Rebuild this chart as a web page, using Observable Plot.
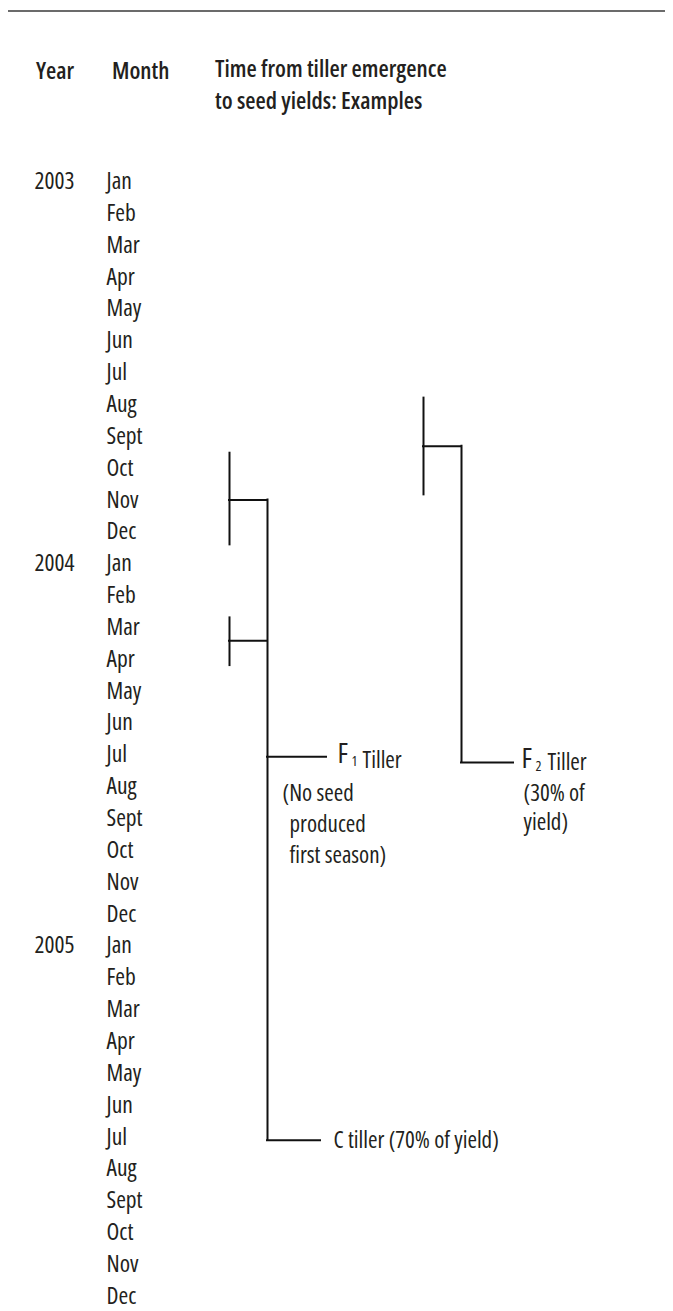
<!DOCTYPE html>
<html>
<head>
<meta charset="utf-8">
<script src="https://cdn.jsdelivr.net/npm/d3@7"></script>
<script src="https://cdn.jsdelivr.net/npm/@observablehq/plot@0.6"></script>
<style>
  html, body { margin: 0; padding: 0; background: #fff; }
  body { width: 673px; height: 1311px; position: relative; overflow: hidden; font-family: "Open Sans", sans-serif; font-stretch: 87.5%; color: #231f20; }
  #rule { position: absolute; left: 8px; top: 10px; width: 657px; height: 0; border-top: 2px solid #6b6b6b; }
  .hd { position: absolute; font-weight: 600; font-size: 23.5px; line-height: 32px; white-space: nowrap; font-stretch: 87.5%; }
  #chart { position: absolute; left: 0; top: 140px; }
  #chart svg text { font-stretch: 87.5%; }
</style>
</head>
<body>
<div id="rule"></div>
<div class="hd" style="left:36px; top:54px;">Year</div>
<div class="hd" style="left:112px; top:54px;">Month</div>
<div class="hd" style="left:215px; top:52px;">Time from tiller emergence<br>to seed yields: Examples</div>
<div id="chart"></div>
<script>
// ---- data ----
const monthNames = ["Jan","Feb","Mar","Apr","May","Jun","Jul","Aug","Sept","Oct","Nov","Dec"];
const years = [2003, 2004, 2005];
// month rows (index = months since Jan 2003)
const months = years.flatMap((yr, k) => monthNames.map((m, j) => ({i: k * 12 + j, label: m})));
const yearRows = years.map((yr, k) => ({i: k * 12, label: String(yr)}));

// bracket verticals (emergence windows), in month units
const windows = [
  {x: 229, y1: 8.5, y2: 11.44},
  {x: 229, y1: 13.67, y2: 15.23},
  {x: 423, y1: 6.77, y2: 9.87}
];
// horizontal connectors
const connectors = [
  {y: 10.0, x1: 229, x2: 267},
  {y: 14.42, x1: 229, x2: 267},
  {y: 8.31, x1: 423, x2: 461},
  {y: 18.06, x1: 267, x2: 326},
  {y: 30.1, x1: 267, x2: 320},
  {y: 18.24, x1: 461, x2: 513}
];
// trunks (time until seed yield)
const trunks = [
  {x: 267, y1: 10.0, y2: 30.1},
  {x: 461, y1: 8.31, y2: 18.24}
];
// labels
const bigLetters = [{x: 337, y: 17.98, t: "F"}, {x: 521, y: 18.12, t: "F"}];
const subs = [{x: 351, y: 18.12, t: "1"}, {x: 535, y: 18.26, t: "2"}];
const tillerWords = [{x: 362, y: 18.14, t: "Tiller"}, {x: 547, y: 18.2, t: "Tiller"}];
const notes = [
  {x: 282, y: 19.22, t: "(No seed"},
  {x: 289, y: 20.2, t: "produced"},
  {x: 289, y: 21.18, t: "first season)"},
  {x: 523, y: 19.22, t: "(30% of"},
  {x: 523, y: 20.14, t: "yield)"},
  {x: 333, y: 30.1, t: "C tiller (70% of yield)"}
];

// ---- chart ----
const H = 1171, rowH = 31.85, firstRow = 41;
const font = "'Open Sans', sans-serif";
const plot = Plot.plot({
  width: 673,
  height: H,
  margin: 0,
  style: {fontFamily: font, color: "#231f20", background: "#fff"},
  x: {type: "linear", domain: [0, 673], range: [0, 673], axis: null},
  y: {type: "linear", domain: [-firstRow / rowH, (H - firstRow) / rowH], range: [0, H], axis: null},
  marks: [
    Plot.text(yearRows, {x: () => 34, y: "i", text: "label", textAnchor: "start", fontSize: 23.5, fill: "#231f20"}),
    Plot.text(months, {x: () => 106, y: "i", text: "label", textAnchor: "start", fontSize: 23.5, fill: "#231f20"}),
    Plot.ruleX(windows, {x: "x", y1: "y1", y2: "y2", stroke: "#111", strokeWidth: 2}),
    Plot.ruleX(trunks, {x: "x", y1: "y1", y2: "y2", stroke: "#111", strokeWidth: 2, strokeLinecap: "square"}),
    Plot.ruleY(connectors, {y: "y", x1: "x1", x2: "x2", stroke: "#111", strokeWidth: 2, strokeLinecap: "square"}),
    Plot.text(bigLetters, {x: "x", y: "y", text: "t", textAnchor: "start", fontSize: 28, fill: "#231f20"}),
    Plot.text(subs, {x: "x", y: "y", text: "t", textAnchor: "start", fontSize: 14, fill: "#231f20", dy: 3}),
    Plot.text(tillerWords, {x: "x", y: "y", text: "t", textAnchor: "start", fontSize: 23, fill: "#231f20", dy: 1}),
    Plot.text(notes, {x: "x", y: "y", text: "t", textAnchor: "start", fontSize: 23, fill: "#231f20"})
  ]
});
document.getElementById("chart").appendChild(plot);
</script>
</body>
</html>
